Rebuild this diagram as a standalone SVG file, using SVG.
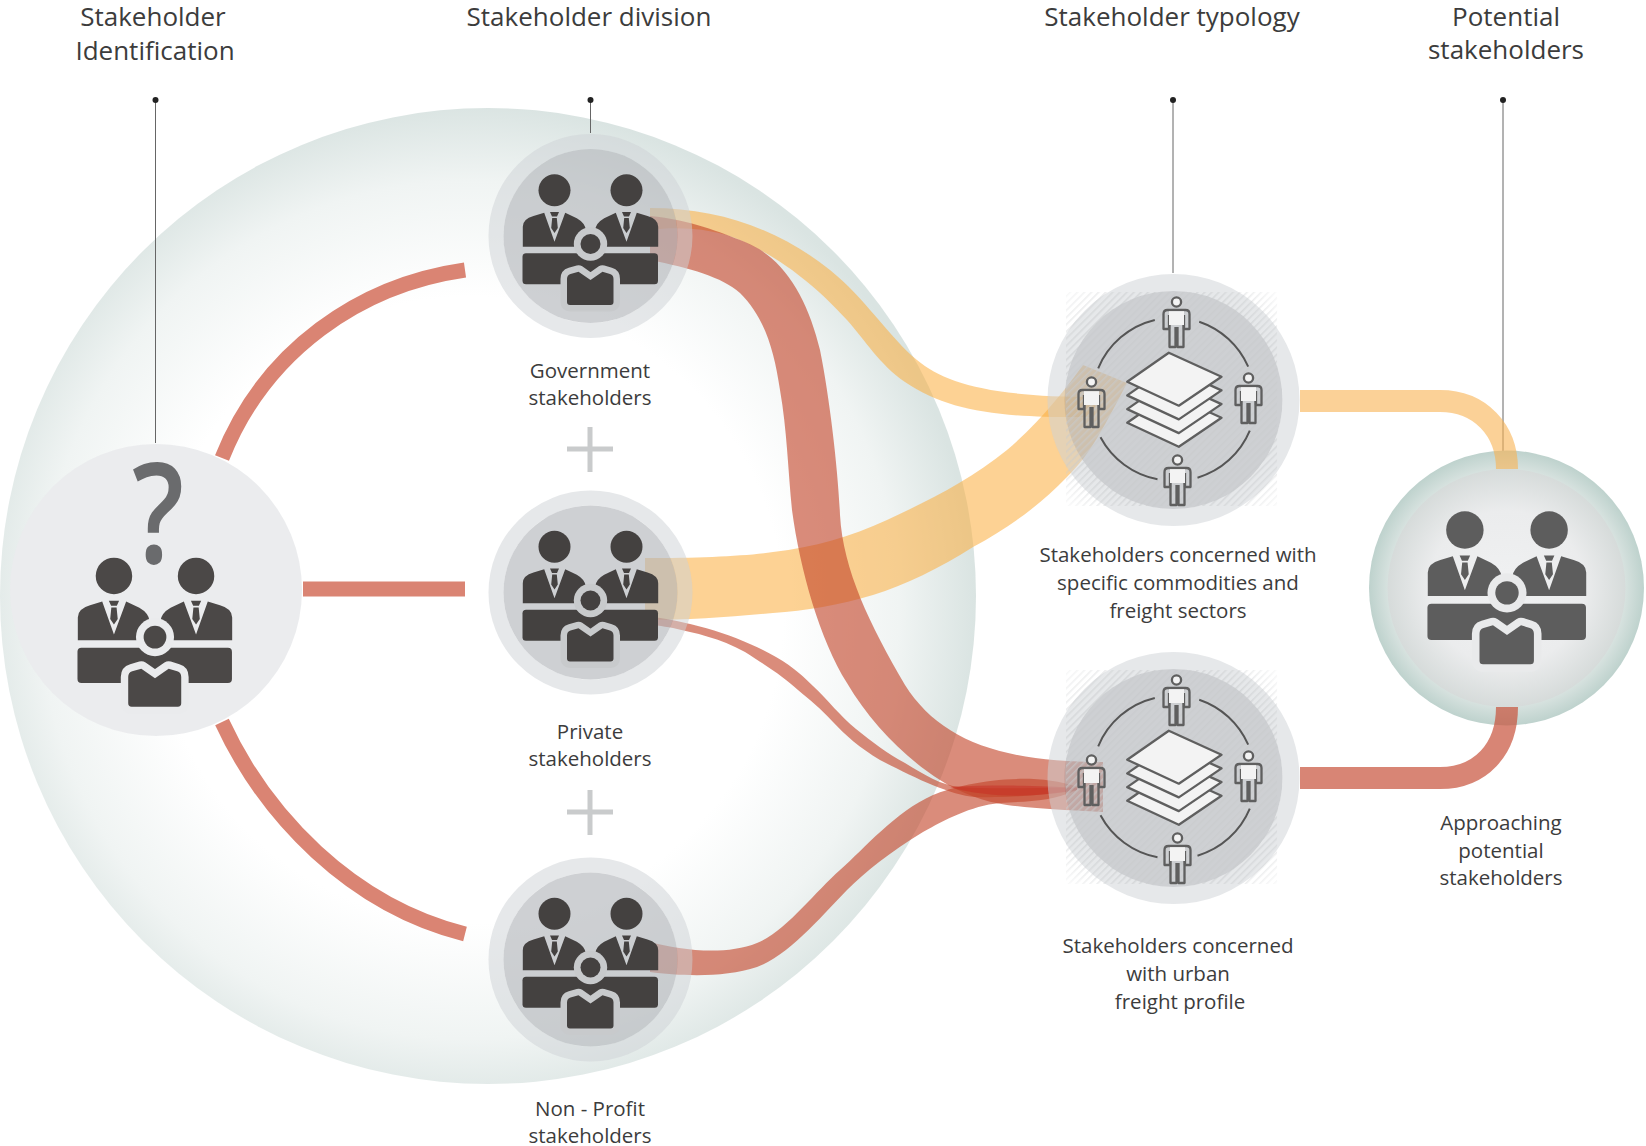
<svg xmlns="http://www.w3.org/2000/svg" width="1646" height="1146" viewBox="0 0 1646 1146">
<style>
text{font-family:"Open Sans","Noto Sans","Liberation Sans",sans-serif;fill:#3c3c3c;text-anchor:middle}
.t{font-size:26px}
.l{font-size:20.5px}
.r{fill:rgb(196,70,42);fill-opacity:.62}
.y{fill:rgb(251,173,60);fill-opacity:.55}
.arc{fill:none;stroke:#da8473;stroke-width:15}
.lead{stroke:#666;stroke-width:1;fill:none}
.dot{fill:#222}
.ring{fill:none;stroke:rgb(205,209,213);stroke-opacity:.5;stroke-width:15}
.disc{fill:rgb(180,183,187);fill-opacity:.65}
.plus{stroke:#c9cbcc;stroke-width:5;fill:none}
.pp{fill:none;stroke:#5f5f5f;stroke-width:2.3;stroke-linejoin:round}
.fp{fill:#f3f3f3;stroke:#5f5f5f;stroke-width:2.3;stroke-linejoin:round}
</style>
<defs>
<radialGradient id="bigG" gradientUnits="userSpaceOnUse" cx="470" cy="610" r="505">
<stop offset="0" stop-color="#fff"/><stop offset=".62" stop-color="#fff"/><stop offset=".85" stop-color="#f0f4f3"/><stop offset="1" stop-color="#dae4e2"/>
</radialGradient>
<radialGradient id="rOuter"><stop offset=".8" stop-color="#e2e9e7"/><stop offset="1" stop-color="#bed2cd"/></radialGradient>
<radialGradient id="rInner"><stop offset="0" stop-color="#f0f1f2"/><stop offset=".65" stop-color="#ebeced"/><stop offset="1" stop-color="#d6dbda"/></radialGradient>
<radialGradient id="hatchFade" gradientUnits="userSpaceOnUse" cx="-2" cy="-1" r="152">
<stop offset=".7" stop-color="#fff"/><stop offset=".86" stop-color="#888"/><stop offset="1" stop-color="#222"/>
</radialGradient>
<mask id="hatchMask" maskUnits="userSpaceOnUse" x="-108" y="-108" width="212" height="214">
<rect x="-108" y="-108" width="212" height="214" fill="url(#hatchFade)"/>
</mask>
<pattern id="hatch" width="5" height="5" patternUnits="userSpaceOnUse" patternTransform="rotate(-45)">
<rect width="5" height="1.6" fill="#c9cbcd"/>
</pattern>
<g id="people">
<path d="M-67.7,10.7V-9.3Q-67.7,-17 -57,-20L-46.3,-23.3L-36,5.7L-25.3,-23.3L-13.7,-17.7Q-5.5,-13 -4.7,-6V10.7Z"/>
<path d="M67.7,10.7V-9.3Q67.7,-17 57,-20L46.3,-23.3L36,5.7L25.3,-23.3L13.7,-17.7Q5.5,-13 4.7,-6V10.7Z"/>
<path d="M-40.5,-24H-31.5L-33.5,-19.5H-38.5ZM-38.3,-18H-33.7L-32.7,-8L-36,-3L-39.3,-8Z"/>
<path d="M31.5,-24H40.5L38.5,-19.5H33.5ZM33.7,-18H38.3L39.3,-8L36,-3L32.7,-8Z"/>
<circle cx="-36" cy="-45.7" r="16"/>
<circle cx="36" cy="-45.7" r="16"/>
<rect x="-68" y="17.3" width="135.5" height="31" rx="3.5"/>
<circle cx="0" cy="8" r="16.7" fill="currentColor"/>
<circle cx="0" cy="8" r="10"/>
<path stroke="currentColor" stroke-width="13" paint-order="stroke" stroke-linejoin="round" d="M-23.5,43Q-23.5,39 -20,38L-12,35.7L0,44L12,35.7L19.5,38Q23,39 23,43V66Q23,69 20,69H-20.5Q-23.5,69 -23.5,66Z"/>
</g>
<g id="person">
<circle class="fp" cx="0" cy="-20" r="4.6"/>
<path class="pp" d="M-7.5,-7V7H-13V-8Q-13,-12 -9,-12H9Q13,-12 13,-8V7H7.5V-7"/>
<path d="M-7.5,-10.8H7.5V3H-7.5Z" fill="#f3f3f3"/>
<path class="pp" d="M-7,3V25H-1V5M1,5V25H7V3"/>
</g>
<g id="typ">
<rect x="-108" y="-108" width="212" height="214" fill="url(#hatch)" opacity=".6" mask="url(#hatchMask)"/>
<path fill="none" stroke="#555" stroke-width="2" d="M-75.3,-31.7A82,82 0 0 1 -18.7,-80M25.7,-78.3A82,82 0 0 1 74.7,-33.3M76.3,30.7A82,82 0 0 1 24,77.7M-16,79.3A82,82 0 0 1 -73,37.3"/>
<use href="#person" x="3" y="-78"/>
<use href="#person" x="-82" y="2"/>
<use href="#person" x="75" y="-2"/>
<use href="#person" x="4" y="80"/>
<path class="fp" d="M-4.7,-6.2L48,17.8L5.3,46.8L-46.3,22.8Z"/>
<path class="fp" d="M-4.7,-19.9L48,4.1L5.3,33.1L-46.3,9.1Z"/>
<path class="fp" d="M-4.7,-33.6L48,-9.6L5.3,19.4L-46.3,-4.6Z"/>
<path class="fp" d="M-4.7,-47.3L48,-23.3L5.3,5.7L-46.3,-18.3Z"/>
</g>
</defs>
<rect width="1646" height="1146" fill="#fff"/>
<circle id="bigCircle" cx="488" cy="596" r="488" fill="url(#bigG)"/>
<g id="connectors">
<path class="lead" d="M155.5,100V443M590.5,100V133M1173,100V273M1503,100V451"/>
<circle class="dot" cx="155.5" cy="100" r="3"/><circle class="dot" cx="590.5" cy="100" r="3"/><circle class="dot" cx="1173" cy="100" r="3"/><circle class="dot" cx="1503" cy="100" r="3"/>
<path class="arc" d="M222,458C265,350 360,285 465,270"/>
<path class="arc" d="M222,722C265,815 350,905 465,934"/>
<path class="arc" d="M303,589H465"/>
<path class="y" d="M650,208C720,208 780,230 830,270C865,298 890,338 917,360C945,383 990,397 1095,397L1095,417C1000,418 950,412 905,382C880,365 865,340 847,320C825,296 790,262 740,240C715,229 680,226 650,230Z"/>
<path class="y" d="M645,558C700,558 745,556 773,552C815,547 850,537 887,520C930,500 970,480 1007,450C1040,422 1065,390 1083,365L1127,383C1105,425 1090,455 1067,477C1040,505 1010,527 973,547C940,568 905,585 873,595C840,605 805,611 773,613C730,617 690,620 645,620Z"/>
<path class="r" d="M650,216C690,220 720,232 745,242C785,258 808,300 820,350C830,400 838,470 840,515C843,570 870,625 905,685C940,740 1000,762 1103,762L1103,812C1060,810 1030,808 1007,805C985,802 960,793 940,780C905,758 870,722 847,683C820,640 800,570 792,510C788,470 787,430 780,390C774,350 765,318 740,293C722,277 690,268 650,260Z"/>
<path class="r" d="M645,616C690,621 740,636 776,657C795,668 805,678 813,686C828,700 840,716 856,729C872,742 888,754 905,763C925,775 940,785 960,787C1000,790 1040,787 1077,788L1077,790C1040,796 1000,798 975,797C950,795 915,778 880,760C860,748 845,735 833,722C820,708 810,700 798,690C785,678 770,668 745,652C720,638 695,633 673,628C662,626 652,625 645,622Z"/>
<path class="r" d="M650,942C680,950 725,956 757,943C785,932 815,892 840,870C865,848 895,812 933,795C960,783 1030,770 1077,787L1077,790C1050,802 1030,801 1000,803C970,806 945,820 923,832C890,852 865,872 847,890C825,912 790,955 757,967C725,978 680,976 650,972Z"/>
<path fill="#c8271f" fill-opacity=".45" d="M950,787C990,785 1040,785 1077,788L1077,790C1040,797 990,799 950,787Z"/>
</g>
<g id="node-identification">
<circle cx="156" cy="590" r="146" fill="#eaebed" fill-opacity=".97"/>
<use href="#people" transform="translate(155,628) scale(1.14)" fill="#4b4847" color="#eaebed"/>
<text transform="translate(158,563) scale(.82,1)" font-weight="600" style="font-size:140px;fill:#6a6b6d">?</text>
<text class="t" x="153" y="26">Stakeholder</text>
<text class="t" x="155" y="60">Identification</text>
</g>
<g id="node-government">
<circle class="ring" cx="590.5" cy="236" r="94.5"/><circle class="disc" cx="590.5" cy="236" r="87"/>
<use href="#people" transform="translate(590.5,236)" fill="#444140" color="#c8cacc"/>
<text class="t" x="589" y="26">Stakeholder division</text>
<text class="l" x="590" y="378">Government</text>
<text class="l" x="590" y="405">stakeholders</text>
</g>
<g id="node-private">
<circle class="ring" cx="590.5" cy="592.5" r="94.5"/><circle class="disc" cx="590.5" cy="592.5" r="87"/>
<use href="#people" transform="translate(590.5,592.5)" fill="#444140" color="#c8cacc"/>
<text class="l" x="590" y="739">Private</text>
<text class="l" x="590" y="766">stakeholders</text>
</g>
<g id="node-nonprofit">
<circle class="ring" cx="590.5" cy="959.5" r="94.5"/><circle class="disc" cx="590.5" cy="959.5" r="87"/>
<use href="#people" transform="translate(590.5,959.5)" fill="#444140" color="#c8cacc"/>
<text class="l" x="590" y="1116">Non - Profit</text>
<text class="l" x="590" y="1143">stakeholders</text>
</g>
<g id="plus-signs">
<path class="plus" d="M590,427V472M567,449H613"/>
<path class="plus" d="M590,790V835M567,812H613"/>
</g>
<g id="node-commodities">
<circle class="ring" cx="1173.5" cy="400" r="117.5" style="stroke-width:17"/><circle class="disc" cx="1173.5" cy="400" r="109"/>
<use href="#typ" x="1173.5" y="400"/>
<text class="t" x="1172" y="26">Stakeholder typology</text>
<text class="l" x="1178" y="562">Stakeholders concerned with</text>
<text class="l" x="1178" y="590">specific commodities and</text>
<text class="l" x="1178" y="618">freight sectors</text>
</g>
<g id="node-urban">
<circle class="ring" cx="1173.5" cy="778" r="117.5" style="stroke-width:17"/><circle class="disc" cx="1173.5" cy="778" r="109"/>
<use href="#typ" x="1173.5" y="778"/>
<text class="l" x="1178" y="953">Stakeholders concerned</text>
<text class="l" x="1178" y="981">with urban</text>
<text class="l" x="1180" y="1009">freight profile</text>
</g>
<g id="node-potential">
<circle cx="1506.5" cy="588" r="137.5" fill="url(#rOuter)"/>
<circle cx="1506.5" cy="588" r="119" fill="url(#rInner)"/>
<use href="#people" transform="translate(1507,583.5) scale(1.17)" fill="#5d5d5d" color="#e9eaeb"/>
<text class="t" x="1506" y="26">Potential</text>
<text class="t" x="1506" y="59">stakeholders</text>
<text class="l" x="1501" y="830">Approaching</text>
<text class="l" x="1501" y="858">potential</text>
<text class="l" x="1501" y="885">stakeholders</text>
</g>
<g id="connectors-right" fill="none" stroke-width="22">
<path stroke="#f9b252" stroke-opacity=".6" d="M1300,401H1440C1480,401 1507,430 1507,469"/>
<path stroke="#c8513a" stroke-opacity=".7" d="M1300,778H1440C1480,778 1507,750 1507,707"/>
</g>
</svg>
